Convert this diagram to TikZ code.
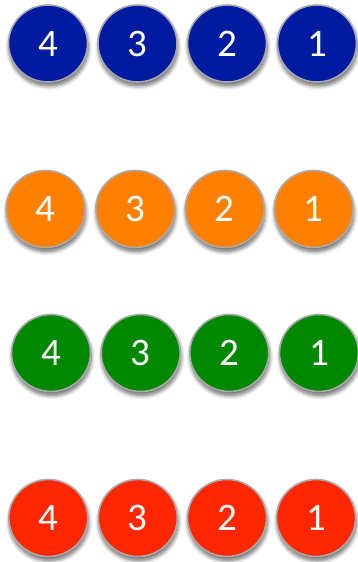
\documentclass[tikz,border=0pt]{standalone}
\usepackage{fontspec}
\setmainfont{Carlito}
\usetikzlibrary{shapes.geometric,shadows.blur}
\definecolor{cblue}{RGB}{0,27,160}
\definecolor{corange}{RGB}{255,127,0}
\definecolor{cgreen}{RGB}{0,137,0}
\definecolor{cred}{RGB}{255,38,0}
\definecolor{cedge}{RGB}{170,170,170}
\tikzset{
  ball/.style={ellipse, minimum width=79pt, minimum height=77pt, inner sep=0pt,
    draw=cedge, line width=1.6pt, text=white,
    font=\fontsize{39}{39}\selectfont,
    blur shadow={shadow xshift=0.8pt, shadow yshift=-4pt, shadow blur radius=4pt, shadow blur steps=8, shadow opacity=60}},
}
\begin{document}
\begin{tikzpicture}[x=1pt,y=1pt]
\useasboundingbox (0,0) rectangle (357,562);
% row 1 (blue)
\node[ball, fill=cblue] (b4) at (48,518.5) {\raisebox{-3pt}{4}};
\node[ball, fill=cblue] (b3) at (137.5,518.5) {\raisebox{-3pt}{3}};
\node[ball, fill=cblue] (b2) at (227,518.5) {\raisebox{-3pt}{2}};
\node[ball, fill=cblue] (b1) at (317,518.5) {\raisebox{-3pt}{1}};
% row 2 (orange)
\node[ball, fill=corange] (o4) at (45.5,353) {\raisebox{-3pt}{4}};
\node[ball, fill=corange] (o3) at (135.3,353) {\raisebox{-3pt}{3}};
\node[ball, fill=corange] (o2) at (224.7,353) {\raisebox{-3pt}{2}};
\node[ball, fill=corange] (o1) at (313.7,353) {\raisebox{-3pt}{1}};
% row 3 (green)
\node[ball, fill=cgreen] (g4) at (51,209) {\raisebox{-3pt}{4}};
\node[ball, fill=cgreen] (g3) at (140.7,209) {\raisebox{-3pt}{3}};
\node[ball, fill=cgreen] (g2) at (229.3,209) {\raisebox{-3pt}{2}};
\node[ball, fill=cgreen] (g1) at (319,209) {\raisebox{-3pt}{1}};
% row 4 (red)
\node[ball, fill=cred] (r4) at (48.3,44) {\raisebox{-3pt}{4}};
\node[ball, fill=cred] (r3) at (137.8,44) {\raisebox{-3pt}{3}};
\node[ball, fill=cred] (r2) at (227,44) {\raisebox{-3pt}{2}};
\node[ball, fill=cred] (r1) at (316,44) {\raisebox{-3pt}{1}};
\end{tikzpicture}
\end{document}
